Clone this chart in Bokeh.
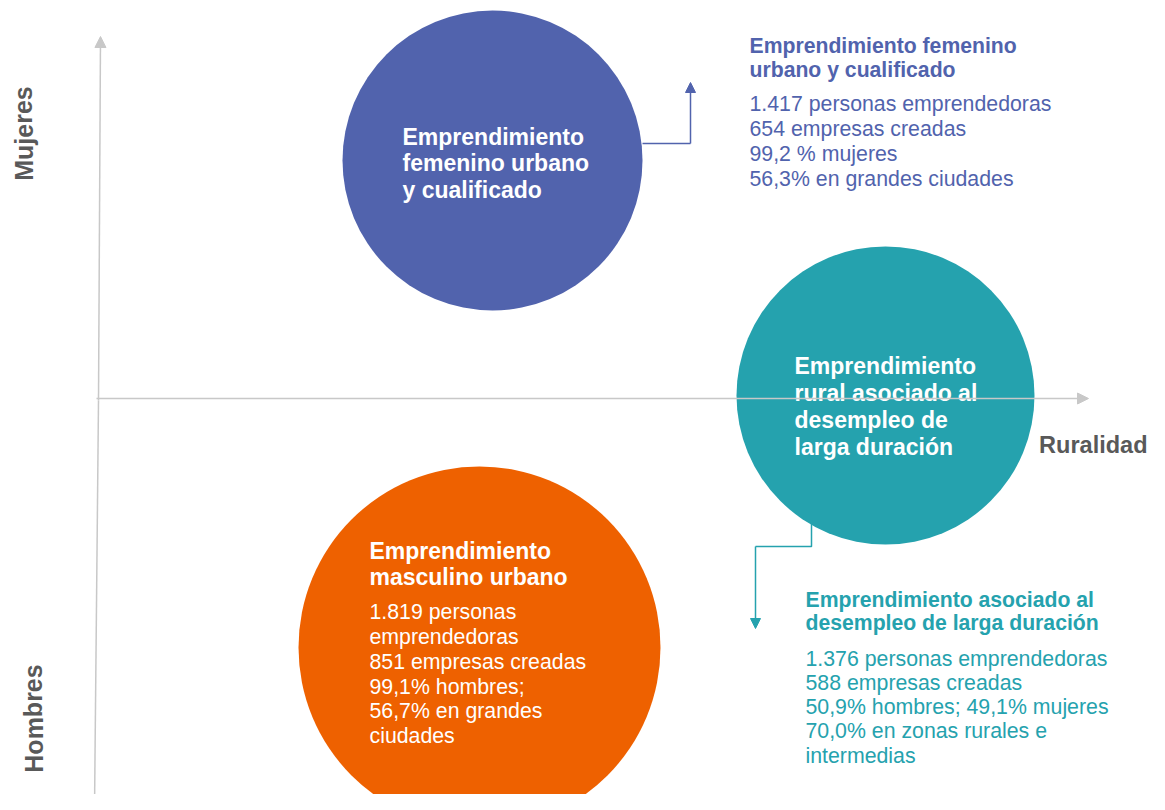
from bokeh.plotting import figure
from bokeh.models import Range1d, Arrow, NormalHead
from bokeh.core.properties import value
from bokeh.embed import file_html
from bokeh.resources import INLINE

# ---------------- data ----------------
circle_names = ["femenino", "rural", "masculino"]
circle_colors = ["#5163AD", "#25A2AE", "#EE6100"]
circle_titles = [
    ["Emprendimiento", "femenino urbano", "y cualificado"],
    ["Emprendimiento", "rural asociado al", "desempleo de", "larga duración"],
    ["Emprendimiento", "masculino urbano"],
]
masc_details = ["1.819 personas", "emprendedoras", "851 empresas creadas",
                "99,1% hombres;", "56,7% en grandes", "ciudades"]
fem_title = ["Emprendimiento femenino", "urbano y cualificado"]
fem_details = ["1.417 personas emprendedoras", "654 empresas creadas",
               "99,2 % mujeres", "56,3% en grandes ciudades"]
rural_title = ["Emprendimiento asociado al", "desempleo de larga duración"]
rural_details = ["1.376 personas emprendedoras", "588 empresas creadas",
                 "50,9% hombres; 49,1% mujeres", "70,0% en zonas rurales e",
                 "intermedias"]
axis_labels = ["Mujeres", "Hombres", "Ruralidad"]

# ---------------- layout (pixel space of the reference) ----------------
W_FIG, H_FIG = 1149, 794
def Y(ry):
    return H_FIG - ry

circle_cx = [492, 885, 479]
circle_cy = [160, 395, 647]
circle_r = [150, 149, 181]

p = figure(width=W_FIG, height=H_FIG, output_backend="svg", toolbar_location=None,
           x_range=Range1d(0, W_FIG), y_range=Range1d(0, H_FIG),
           min_border=0)
p.axis.visible = False
p.grid.visible = False
p.outline_line_color = None
p.background_fill_color = "white"
p.border_fill_color = "white"

FONT = value("Liberation Sans")
GRAY = "#C8C8C8"

# axes (arrows)
p.add_layout(Arrow(x_start=96, y_start=Y(398), x_end=1088, y_end=Y(398),
                   line_color=GRAY, line_width=1.5,
                   end=NormalHead(size=11, fill_color=GRAY, line_color=GRAY)))
p.add_layout(Arrow(x_start=98, y_start=Y(400), x_end=100, y_end=Y(36),
                   line_color=GRAY, line_width=1.5,
                   end=NormalHead(size=11, fill_color=GRAY, line_color=GRAY)))
p.add_layout(Arrow(x_start=98, y_start=Y(400), x_end=94, y_end=Y(809),
                   line_color=GRAY, line_width=1.5,
                   end=NormalHead(size=11, fill_color=GRAY, line_color=GRAY)))

# circles
p.circle(x=circle_cx, y=[Y(v) for v in circle_cy], radius=circle_r,
         fill_color=circle_colors, line_color=None)

# connectors
BLUE, TEAL = circle_colors[0], circle_colors[1]
p.line(x=[642, 690], y=[Y(143), Y(143)], line_color=BLUE, line_width=1.5)
p.add_layout(Arrow(x_start=690, y_start=Y(143), x_end=690, y_end=Y(82),
                   line_color=BLUE, line_width=1.5,
                   end=NormalHead(size=10, fill_color=BLUE, line_color=BLUE)))
p.line(x=[811, 811, 755], y=[Y(520), Y(546), Y(546)], line_color=TEAL, line_width=1.5)
p.add_layout(Arrow(x_start=755, y_start=Y(546), x_end=755, y_end=Y(628),
                   line_color=TEAL, line_width=1.5,
                   end=NormalHead(size=10, fill_color=TEAL, line_color=TEAL)))

def lines(x, ys, texts, color, size, bold):
    p.text(x=[x] * len(texts), y=[Y(v) for v in ys], text=texts,
           text_color=color, text_font=FONT, text_font_size=size,
           text_font_style="bold" if bold else "normal",
           text_align="left", text_baseline="middle")

# circle labels
lines(402, [136, 162, 189], circle_titles[0], "white", "23px", True)
lines(794, [365, 392, 419, 446], circle_titles[1], "white", "23px", True)
lines(369, [550, 576], circle_titles[2], "white", "23px", True)
lines(369, [611, 636, 661, 686, 710, 735], masc_details, "white", "21.3px", False)

# side texts
lines(749, [45, 69], fem_title, BLUE, "21.2px", True)
lines(749, [103, 128, 153, 178], fem_details, BLUE, "21.3px", False)
lines(805, [599, 622], rural_title, TEAL, "21.2px", True)
lines(805, [658, 682, 706, 730, 755], rural_details, TEAL, "21.3px", False)

# axis labels
AX = "#595959"
p.text(x=[23, 33], y=[Y(133), Y(718)], text=axis_labels[:2], angle=1.5708,
       text_color=AX, text_font=FONT, text_font_size="25px", text_font_style="bold",
       text_align="center", text_baseline="middle")
p.text(x=[1147], y=[Y(444)], text=[axis_labels[2]],
       text_color=AX, text_font=FONT, text_font_size="23.5px", text_font_style="bold",
       text_align="right", text_baseline="middle")

open("out.html", "w").write(file_html(p, INLINE))
